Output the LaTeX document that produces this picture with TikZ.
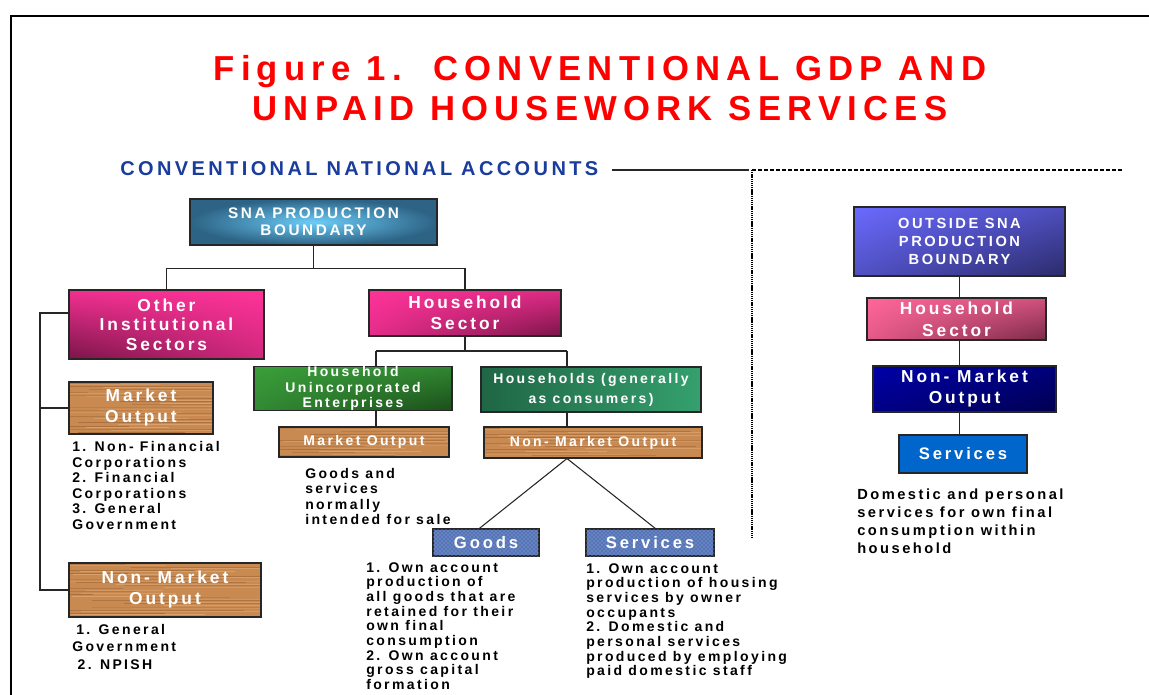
\documentclass[tikz,border=0pt]{standalone}
\usepackage{fontspec}
\usepackage{tikz}
\usetikzlibrary{shadings,patterns}
\setmainfont{Liberation Sans}
\newfontfamily\chartfont{Liberation Sans}[LetterSpace=17]
\newfontfamily\titlefont{Liberation Sans}[LetterSpace=18]

\definecolor{titlered}{rgb}{1,0,0}
\definecolor{acctblue}{HTML}{1A3C9C}
\definecolor{snaedge}{HTML}{2D6385}
\definecolor{snacentre}{HTML}{6CCDF8}
\definecolor{sectlight}{HTML}{FF3399}
\definecolor{sectdark}{HTML}{7A1549}
\definecolor{enterlight}{HTML}{3A9E3A}
\definecolor{enterdark}{HTML}{1B4D1B}
\definecolor{conslight}{HTML}{35A06E}
\definecolor{consdark}{HTML}{1F6645}
\definecolor{wood}{HTML}{C98A52}
\definecolor{woodlight}{HTML}{E2AC78}
\definecolor{wooddark}{HTML}{9C6436}
\definecolor{denim}{HTML}{5675B8}
\definecolor{outlight}{HTML}{6A6AFF}
\definecolor{outdark}{HTML}{2B2B6B}
\definecolor{rhhlight}{HTML}{FF6699}
\definecolor{rhhdark}{HTML}{7A2A48}
\definecolor{navylight}{HTML}{0000A8}
\definecolor{navydark}{HTML}{000050}
\definecolor{servblue}{HTML}{0066CC}

\newcommand{\woodgrain}{%
  \foreach \k in {1,...,24} {
    \pgfmathsetmacro{\gy}{2.3*\k-1.5}
    \pgfmathsetmacro{\gx}{-40+90*rnd}
    \pgfmathsetmacro{\gl}{60+170*rnd}
    \pgfmathsetmacro{\go}{0.25+0.45*rnd}
    \draw[line width=0.7pt, draw=wooddark, opacity=\go]
      ([xshift=\gx pt, yshift=-\gy pt]path picture bounding box.north west) -- ++(\gl,0);
    \draw[line width=0.5pt, draw=woodlight, opacity=\go]
      ([xshift=\gx pt+30pt, yshift=-\gy pt-1.1pt]path picture bounding box.north west) -- ++(\gl,0);
  }
}

\tikzstyle{chartbox}=[draw=black!85, line width=0.8pt, inner sep=0pt, align=center, text=white]
\tikzstyle{midtype}=[font=\chartfont\bfseries\fontsize{10.5}{12}\selectfont]
\tikzstyle{bigtype}=[font=\chartfont\bfseries\fontsize{13}{15.75}\selectfont]
\tikzstyle{snabox}=[chartbox, font=\chartfont\bfseries\fontsize{11.5}{12.75}\selectfont,
  inner color=snacentre, outer color=snaedge]
\tikzstyle{othersect}=[chartbox, bigtype, font=\chartfont\bfseries\fontsize{13}{14.5}\selectfont,
  upper right=sectlight, upper left=sectlight!90!sectdark,
  lower right=sectlight!65!sectdark, lower left=sectdark]
\tikzstyle{hhsect}=[chartbox, bigtype,
  upper left=sectlight, upper right=sectlight!75!sectdark,
  lower left=sectlight!80!sectdark, lower right=sectdark]
\tikzstyle{enterbox}=[chartbox, midtype, font=\chartfont\bfseries\fontsize{10.5}{11.7}\selectfont,
  upper left=enterlight, upper right=enterlight!70!enterdark,
  lower left=enterlight!75!enterdark, lower right=enterdark]
\tikzstyle{consbox}=[chartbox, midtype, font=\chartfont\bfseries\fontsize{10.5}{15}\selectfont,
  left color=consdark, right color=conslight]
\tikzstyle{woodbox}=[chartbox, fill=wood, path picture={\woodgrain}]
\tikzstyle{denimbox}=[chartbox, fill=denim, font=\chartfont\bfseries\fontsize{12.5}{14}\selectfont,
  postaction={pattern=crosshatch dots, pattern color=denim!55!white}]
\tikzstyle{outbox}=[chartbox, font=\chartfont\bfseries\fontsize{11}{13.5}\selectfont,
  upper left=outlight, upper right=outlight!55!outdark,
  lower left=outlight!60!outdark, lower right=outdark]
\tikzstyle{rhhbox}=[chartbox, font=\chartfont\bfseries\fontsize{13}{16.5}\selectfont,
  upper left=rhhlight, upper right=rhhlight!65!rhhdark,
  lower left=rhhlight!80!rhhdark, lower right=rhhdark]
\tikzstyle{navybox}=[chartbox, bigtype,
  upper left=navylight, upper right=navylight!50!navydark,
  lower left=navylight!60!navydark, lower right=navydark]
\tikzstyle{servbox}=[chartbox, fill=servblue, font=\chartfont\bfseries\fontsize{12.5}{14}\selectfont]
\tikzstyle{note}=[inner sep=0pt, anchor=north west, align=left, font=\chartfont\bfseries\fontsize{10.5}{11}\selectfont]
\tikzstyle{link}=[draw=black!85, line width=0.8pt]
\tikzstyle{splitline}=[draw=black, line width=0.9pt, dash pattern=on 3pt off 1.5pt]

\newcommand{\blockat}[7]{
  \node[#2, minimum width={(#5-#3)*0.75pt}, minimum height={(#6-#4)*0.75pt}] (#1)
    at ({(#3+#5)/2},{(#4+#6)/2}) {#7};
}

\begin{document}
\begin{tikzpicture}[x=0.75pt, y=-0.75pt]
\useasboundingbox (0,0) rectangle (1149,695);
\pgfmathsetseed{42}

\draw[line width=1.6pt] (11,695) -- (11,16) -- (1149,16);

\node[text=titlered, align=center, font=\titlefont\bfseries\fontsize{26}{30}\selectfont]
  (title) at (600,88) {Figure 1.\hspace{0.3em} CONVENTIONAL GDP AND\\UNPAID HOUSEWORK SERVICES};
\node[text=acctblue, anchor=west, inner sep=0pt, font=\chartfont\bfseries\fontsize{15}{17}\selectfont]
  (accounts) at (120,169) {CONVENTIONAL NATIONAL ACCOUNTS};

\coordinate (split) at (752,170);
\draw[link] ([xshift=10pt]accounts.east |- split) -- ([xshift=-2pt]split);
\draw[splitline] (split) -- ++(371,0);
\draw[splitline, dash pattern=on 1pt off 0.6pt, line width=1.3pt] (split) -- ++(0,369);

% conventional accounts side
\blockat{sna}{snabox}{190}{199}{437}{245}{SNA PRODUCTION\\BOUNDARY}
\blockat{other}{othersect}{69}{290}{264}{359}{Other\\Institutional\\Sectors}
\blockat{hhsec}{hhsect}{369}{290}{561}{336}{Household\\Sector}
\blockat{hue}{enterbox}{254}{367}{452}{410}{Household\\Unincorporated\\Enterprises}
\blockat{hgc}{consbox}{481}{367}{701}{412}{Households (generally\\as consumers)}
\blockat{mktout}{woodbox, midtype}{279}{427}{449}{457}{Market Output}
\blockat{nonmkt}{woodbox, midtype}{484}{427}{702}{458}{Non- Market Output}
\blockat{goods}{denimbox}{433}{529}{539}{556}{Goods}
\blockat{serv}{denimbox}{586}{529}{714}{556}{Services}
\blockat{lmkt}{woodbox, bigtype}{69}{382}{213}{434}{Market\\Output}
\blockat{lnonmkt}{woodbox, bigtype}{69}{563}{261}{617}{Non- Market\\Output}

\draw[link] (sna.south) -- ++(0,23) -| (other.north);
\draw[link] (sna.south) -- ++(0,23) -| (hhsec.north);

\coordinate (hleft) at (376,351);
\coordinate (hright) at (567,351);
\draw[link] (hhsec.south) -- (hhsec.south |- hleft);
\draw[link] (hleft) -- (hright);
\draw[link] (hleft) -- (hleft |- hue.north);
\draw[link] (hright) -- (hright |- hgc.north);
\draw[link] (hue.south -| hleft) -- (mktout.north -| hleft);
\draw[link] (hgc.south -| hright) -- (nonmkt.north -| hright);
\draw[link] (nonmkt.south -| hright) -- ([xshift=-5pt]goods.north);
\draw[link] (nonmkt.south -| hright) -- ([xshift=4pt]serv.north);

\coordinate (bus) at (40,313);
\draw[link] (other.west |- bus) -- (bus) |- (lnonmkt.west);
\draw[link] (bus |- lmkt.west) -- (lmkt.west);

\node[note, font=\chartfont\bfseries\fontsize{10.5}{11.7}\selectfont] (lmkttxt) at (72,441)
  {1. Non- Financial\\Corporations\\2. Financial\\Corporations\\3. General\\Government};
\node[note, font=\chartfont\bfseries\fontsize{10.5}{13}\selectfont] (lnonmkttxt) at (72,624)
  {\hspace*{3pt}1. General\\Government\\\hspace*{4pt}2. NPISH};
\node[note, font=\chartfont\bfseries\fontsize{10.5}{11.5}\selectfont] (mkttxt) at (305,468)
  {Goods and\\services\\normally\\intended for sale};
\node[note] (goodstxt) at (366,562)
  {1. Own account\\production of\\all goods that are\\retained for their\\own final\\consumption\\2. Own account\\gross capital\\formation};
\node[note] (servtxt) at (586,563)
  {1. Own account\\production of housing\\services by owner\\occupants\\2. Domestic and\\personal services\\produced by employing\\paid domestic staff};

% outside the production boundary
\blockat{outside}{outbox}{854}{207}{1065}{276}{OUTSIDE SNA\\PRODUCTION\\BOUNDARY}
\blockat{rhh}{rhhbox}{867}{298}{1046}{340}{Household\\Sector}
\blockat{rnonmkt}{navybox}{873}{366}{1056}{412}{Non- Market\\Output}
\blockat{rserv}{servbox}{899}{435}{1027}{473}{Services}

\draw[link] (outside.south) -- (outside.south |- rhh.north);
\draw[link] (rhh.south -| outside.south) -- (rnonmkt.north -| outside.south);
\draw[link] (rnonmkt.south -| outside.south) -- (rserv.north -| outside.south);

\node[note, font=\chartfont\bfseries\fontsize{11}{13.5}\selectfont] (rservtxt) at (857,489)
  {Domestic and personal\\services for own final\\consumption within\\household};

\end{tikzpicture}
\end{document}
